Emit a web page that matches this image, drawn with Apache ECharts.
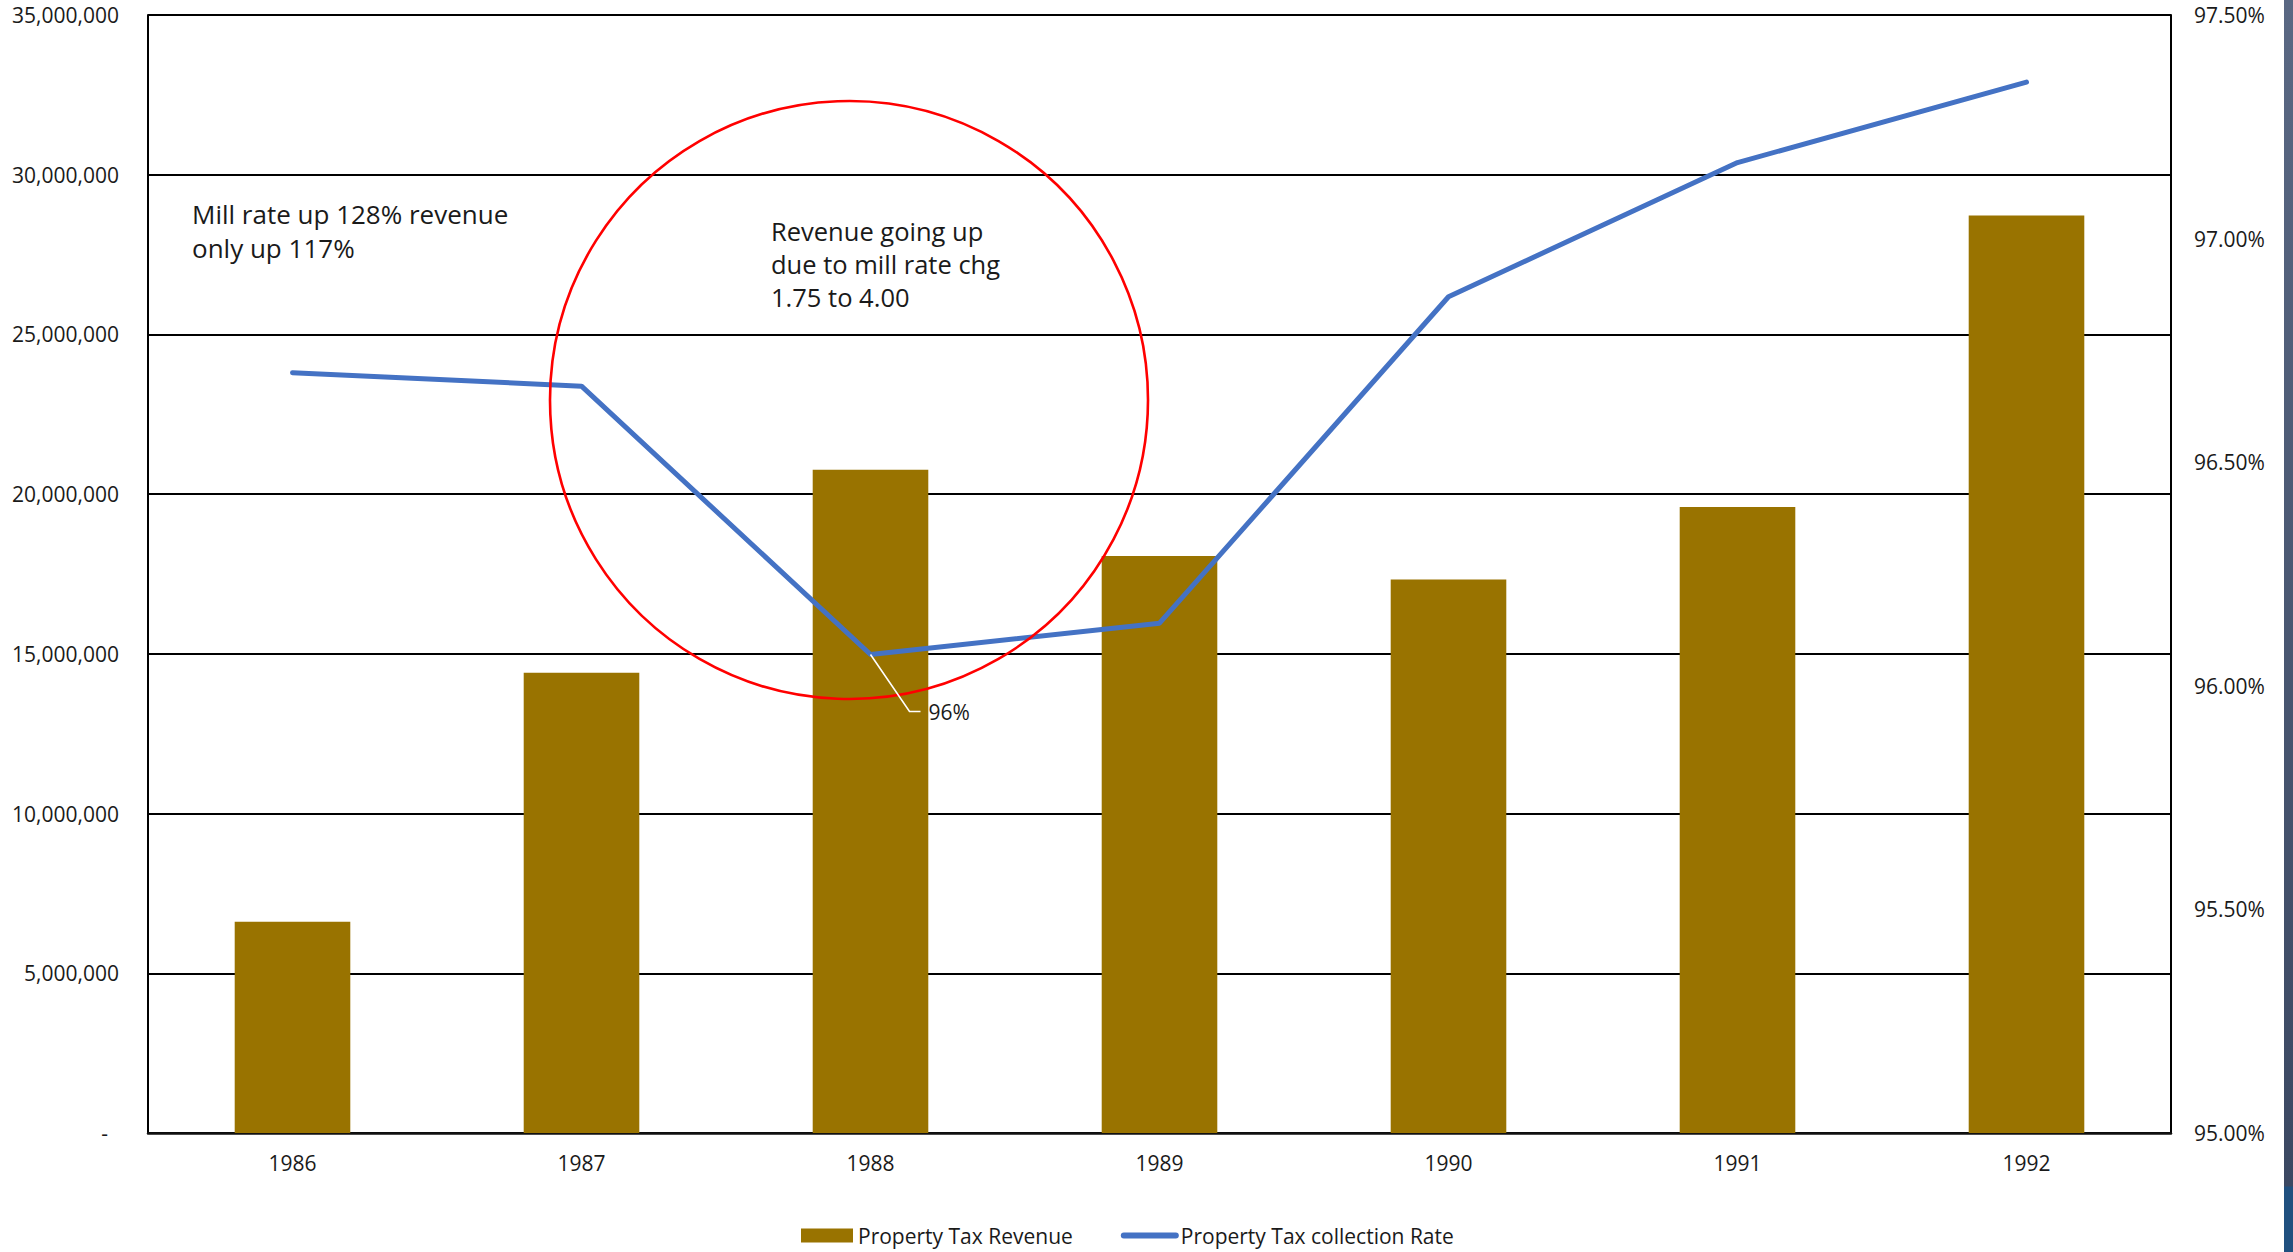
<!DOCTYPE html>
<html>
<head>
<meta charset="utf-8">
<script src="https://cdn.jsdelivr.net/npm/echarts@6/dist/echarts.min.js"></script>
<style>
  html, body { margin: 0; padding: 0; background: #ffffff; }
  #chart { position: absolute; left: 0; top: 0; width: 2293px; height: 1252px; }
  #strip { position: absolute; top: 0; right: 0; width: 9px; height: 1252px;
    background: linear-gradient(to bottom, #5a6883 0px, #3b4862 1186px, #20507f 1187px, #20507f 1252px); }
</style>
</head>
<body>
<div id="chart"></div>
<div id="strip"></div>
<script>
// ---- data ----
const categories = ['1986', '1987', '1988', '1989', '1990', '1991', '1992'];
const revenue = [6615000, 14410000, 20760000, 18060000, 17330000, 19600000, 28720000];
const collectionRate = [96.70, 96.67, 96.07, 96.14, 96.87, 97.17, 97.35];
const revenueTicks = [0, 5000000, 10000000, 15000000, 20000000, 25000000, 30000000, 35000000];
const rateTicks = [95.0, 95.5, 96.0, 96.5, 97.0, 97.5];
const seriesNames = ['Property Tax Revenue', 'Property Tax collection Rate'];
const noteLeft = ['Mill rate up 128% revenue', 'only up 117%'];
const noteCircle = ['Revenue going up', 'due to mill rate chg', '1.75 to 4.00'];
const pointLabelIndex = 2;
const pointLabelText = '96%';

const FONT = '"Open Sans", "Liberation Sans", sans-serif';
const TXT = '#1a1a1a';
const LINE_COLOR = '#4472C4';

const chart = echarts.init(document.getElementById('chart'), null, { renderer: 'svg' });

const option = {
  animation: false,
  backgroundColor: '#ffffff',
  textStyle: { fontFamily: FONT },
  grid: { left: 148, right: 122, top: 15, bottom: 119, outerBoundsMode: 'none', containLabel: false },
  legend: {
    data: [
      { name: seriesNames[0], icon: 'rect' },
      { name: seriesNames[1], itemStyle: { opacity: 0 }, lineStyle: { width: 6, cap: 'round', color: LINE_COLOR } }
    ],
    left: 796,
    top: 1220,
    itemWidth: 52,
    itemHeight: 14,
    itemGap: 48,
    textStyle: { fontFamily: FONT, fontSize: 21, color: TXT }
  },
  xAxis: {
    type: 'category',
    data: categories,
    boundaryGap: true,
    axisTick: { show: false },
    axisLine: { show: true, lineStyle: { color: '#111', width: 2.5 } },
    axisLabel: { fontFamily: FONT, fontSize: 21, color: TXT, margin: 19 },
    splitLine: { show: false }
  },
  yAxis: [
    {
      type: 'value',
      min: revenueTicks[0],
      max: revenueTicks[revenueTicks.length - 1],
      interval: revenueTicks[1] - revenueTicks[0],
      axisLine: { show: true, lineStyle: { color: '#000', width: 2 } },
      axisTick: { show: false },
      axisLabel: {
        fontFamily: FONT, fontSize: 21, color: TXT, margin: 29,
        formatter: v => v === 0 ? '{z|-}' : v.toLocaleString('en-US'),
        rich: { z: { fontFamily: FONT, fontSize: 21, color: TXT, padding: [0, 11, 0, 0] } }
      },
      splitLine: { show: true, lineStyle: { color: '#000', width: 2 } }
    },
    {
      type: 'value',
      min: rateTicks[0],
      max: rateTicks[rateTicks.length - 1],
      interval: rateTicks[1] - rateTicks[0],
      position: 'right',
      axisLine: { show: true, lineStyle: { color: '#000', width: 2 } },
      axisTick: { show: false },
      axisLabel: {
        fontFamily: FONT, fontSize: 21, color: TXT, margin: 23,
        formatter: v => v.toFixed(2) + '%'
      },
      splitLine: { show: false }
    }
  ],
  series: [
    {
      name: seriesNames[0],
      type: 'bar',
      data: revenue,
      barWidth: '40%',
      itemStyle: { color: '#997300' },
      z: 2
    },
    {
      name: seriesNames[1],
      type: 'line',
      yAxisIndex: 1,
      data: collectionRate,
      symbol: 'none',
      showSymbol: false,
      lineStyle: { color: LINE_COLOR, width: 5, cap: 'round', join: 'round' },
      itemStyle: { color: LINE_COLOR },
      z: 3
    }
  ]
};
chart.setOption(option);

// annotations (leader line position derived from the library's own scales)
const p = chart.convertToPixel({ seriesIndex: 1 }, [pointLabelIndex, collectionRate[pointLabelIndex]]);
chart.setOption({
  graphic: [
    {
      type: 'polyline', z: 50, silent: true,
      shape: { points: [[p[0], p[1]], [p[0] + 39, p[1] + 57], [p[0] + 50, p[1] + 57]] },
      style: { stroke: '#ffffff', lineWidth: 1.6, fill: null }
    },
    {
      type: 'text', z: 50, silent: true,
      x: p[0] + 58, y: p[1] + 58,
      style: { text: pointLabelText, font: '21px ' + FONT, fill: TXT, verticalAlign: 'middle', align: 'left' }
    },
    {
      type: 'circle', z: 40, silent: true,
      shape: { cx: 849, cy: 400, r: 299 },
      style: { fill: null, stroke: '#ff0000', lineWidth: 2.6 }
    },
    {
      type: 'text', z: 50, silent: true,
      x: 192, y: 197,
      style: { text: noteLeft.join('\n'), font: '26px ' + FONT, lineHeight: 34, fill: TXT, verticalAlign: 'top', align: 'left' }
    },
    {
      type: 'text', z: 50, silent: true,
      x: 771, y: 214,
      style: { text: noteCircle.join('\n'), font: '25.5px ' + FONT, lineHeight: 33, fill: TXT, verticalAlign: 'top', align: 'left' }
    }
  ]
});
</script>
</body>
</html>
